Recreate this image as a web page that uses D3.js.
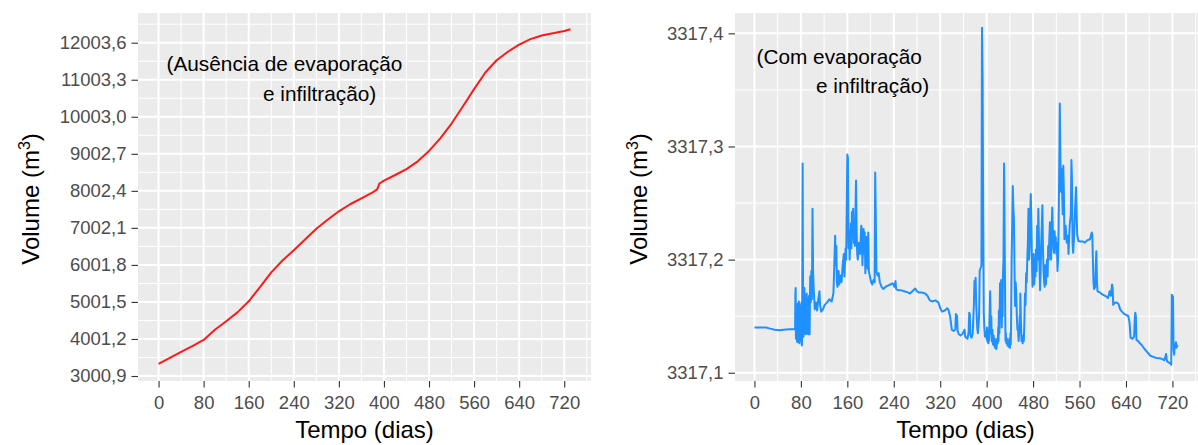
<!DOCTYPE html>
<meta charset='utf-8'>
<style>
	body { margin: 0; background: #fff; }
	svg { display: block; font-family: 'Liberation Sans', Arial, sans-serif; }
</style>
<body>
	<div id='container'></div>
<script src='https://d3js.org/d3.v7.min.js'></script>
<script>
	// eixo x comum (dias)
	const ticksDias = [0, 80, 160, 240, 320, 400, 480, 560, 640, 720];

	// painel esquerdo: sem evaporação e infiltração
	const ticksSem = [3000.9, 4001.2, 5001.5, 6001.8, 7002.1, 8002.4, 9002.7, 10003.0, 11003.3, 12003.6];
	const diasSem = [0, 20, 40, 60, 80, 100, 120, 140, 160, 180, 200, 220, 240, 260, 280, 300, 320, 340, 360, 380,
		388, 392, 400, 420, 440, 460, 480, 500, 520, 540, 560, 580, 600, 620, 640, 660, 680, 700, 720, 731];
	const volumeSem = [3330, 3490, 3650, 3810, 3975, 4250, 4480, 4720, 5020, 5400, 5800, 6120, 6400, 6690, 6980, 7220, 7450, 7640, 7800, 7960,
		8040, 8200, 8280, 8430, 8590, 8800, 9080, 9420, 9820, 10280, 10750, 11200, 11530, 11760, 11950, 12100, 12200, 12260, 12320, 12365];

	// painel direito: com evaporação e infiltração
	const ticksCom = [3317.1, 3317.2, 3317.3, 3317.4];
	const diasCom = [
		0, 10, 20, 27, 35, 44, 50, 60, 70, 70.5,
		71, 71.5, 72, 72.5, 73, 73.5, 74, 74.5, 75, 75.5,
		76, 76.5, 77, 77.5, 78, 78.5, 79, 79.5, 80, 80.5,
		81, 81.5, 82, 82.5, 83, 83.5, 84, 84.5, 85, 85.5,
		86, 86.5, 87, 87.5, 88, 88.5, 89, 89.5, 90, 90.5,
		91, 91.5, 92, 92.5, 93, 93.5, 94, 94.5, 95, 95.5,
		96, 97, 98, 99, 100, 101, 102, 103, 104, 106,
		108, 110, 112, 113, 115, 118, 121, 125, 129, 133,
		136, 137, 139, 140, 141, 142, 143, 145, 146, 148,
		150, 152, 154, 155, 157, 158, 160, 161, 162, 163,
		164, 166, 167, 168, 169, 170, 171, 172, 173, 175,
		176, 177, 178, 180, 182, 184, 185, 186, 188, 189,
		190, 191, 193, 195, 196, 197, 199, 201, 203, 205,
		207, 208, 209, 210, 212, 214, 216, 219, 222, 226,
		230, 234, 238, 241, 243, 244, 247, 252, 258, 264,
		268, 272, 277, 280, 283, 288, 294, 298, 302, 306,
		312, 317, 320, 323, 328, 332, 334, 337, 340, 343,
		346, 347, 349, 350, 352, 355, 358, 360, 362, 363,
		365, 367, 369, 370, 371, 372, 374, 376, 378, 379,
		380, 381, 382, 384, 385, 387, 388, 390, 391, 392,
		393, 394, 395, 396, 397, 399, 400, 400.5, 401, 401.5,
		402, 403, 403.5, 404, 405, 406, 406.5, 407, 408, 408.5,
		409, 410, 410.5, 411, 412, 412.5, 413, 414, 414.5, 415,
		416, 416.5, 417, 418, 419, 420, 420.5, 421, 422, 423,
		424, 425, 425.5, 426, 427, 427.5, 428, 429, 430, 430.5,
		431, 432, 432.5, 433, 434, 435, 436, 437, 438, 439,
		440, 441, 441.5, 442, 443, 444, 445, 446, 447, 448,
		449, 450, 451, 452, 453, 454, 455, 456, 457, 457.5,
		458, 459, 460, 461, 462, 463, 464, 465, 466, 467,
		468, 469, 470, 471, 472, 472.5, 473, 474, 475, 476,
		477, 478, 479, 480, 481, 482, 483, 484, 485, 486,
		487, 488, 489, 490, 491, 492, 493, 494, 495, 496,
		497, 498, 499, 500, 501, 502, 503, 504, 505, 506,
		507, 508, 509, 510, 511, 512, 513, 514, 515, 516,
		517, 518, 519, 520, 521, 522, 523, 524, 525, 526,
		527, 528, 529, 531, 532, 533, 534, 536, 538, 540,
		541, 543, 545, 546, 547, 548, 549, 551, 552, 554,
		555, 556, 558, 562, 566, 569, 573, 578, 581, 582,
		583, 584, 585, 587, 588, 589, 590, 591, 595, 600,
		604, 609, 612, 614, 616, 617, 618, 621, 624, 627,
		630, 633, 637, 641, 644, 646, 648, 651, 654, 655,
		656, 657, 658, 661, 664, 667, 672, 677, 682, 687,
		692, 698, 703, 706, 708, 709, 710, 711, 714, 717,
		718, 719, 720, 721, 722, 723, 724, 725, 726, 727,
		728, 729];
	const volumeCom = [
		3317.140, 3317.140, 3317.140, 3317.139, 3317.138, 3317.1375, 3317.138, 3317.1385, 3317.1385, 3317.170,
		3317.175, 3317.130, 3317.132, 3317.160, 3317.155, 3317.128, 3317.127, 3317.161, 3317.158, 3317.133,
		3317.136, 3317.163, 3317.160, 3317.126, 3317.130, 3317.158, 3317.157, 3317.129, 3317.128, 3317.160,
		3317.162, 3317.124, 3317.125, 3317.200, 3317.285, 3317.200, 3317.150, 3317.132, 3317.135, 3317.165,
		3317.175, 3317.136, 3317.140, 3317.160, 3317.165, 3317.134, 3317.135, 3317.168, 3317.170, 3317.135,
		3317.138, 3317.162, 3317.160, 3317.134, 3317.136, 3317.165, 3317.168, 3317.134, 3317.134, 3317.160,
		3317.185, 3317.162, 3317.190, 3317.165, 3317.245, 3317.190, 3317.175, 3317.165, 3317.156, 3317.162,
		3317.155, 3317.165, 3317.172, 3317.160, 3317.154, 3317.156, 3317.160, 3317.162, 3317.165, 3317.163,
		3317.170, 3317.185, 3317.221, 3317.195, 3317.212, 3317.180, 3317.176, 3317.190, 3317.178, 3317.186,
		3317.180, 3317.195, 3317.205, 3317.185, 3317.210, 3317.200, 3317.293, 3317.290, 3317.210, 3317.225,
		3317.200, 3317.232, 3317.210, 3317.242, 3317.225, 3317.245, 3317.215, 3317.230, 3317.212, 3317.270,
		3317.225, 3317.205, 3317.200, 3317.215, 3317.205, 3317.230, 3317.226, 3317.195, 3317.227, 3317.205,
		3317.224, 3317.188, 3317.220, 3317.192, 3317.224, 3317.190, 3317.185, 3317.180, 3317.178, 3317.182,
		3317.180, 3317.277, 3317.240, 3317.190, 3317.186, 3317.188, 3317.180, 3317.176, 3317.174, 3317.176,
		3317.177, 3317.178, 3317.179, 3317.176, 3317.181, 3317.174, 3317.173, 3317.173, 3317.172, 3317.171,
		3317.170, 3317.172, 3317.1745, 3317.172, 3317.171, 3317.171, 3317.170, 3317.168, 3317.164, 3317.163,
		3317.164, 3317.162, 3317.157, 3317.154, 3317.155, 3317.157, 3317.156, 3317.150, 3317.138, 3317.137,
		3317.138, 3317.152, 3317.150, 3317.137, 3317.134, 3317.133, 3317.134, 3317.136, 3317.138, 3317.132,
		3317.131, 3317.130, 3317.136, 3317.153, 3317.152, 3317.133, 3317.131, 3317.135, 3317.160, 3317.181,
		3317.175, 3317.184, 3317.160, 3317.138, 3317.135, 3317.150, 3317.190, 3317.193, 3317.195, 3317.405,
		3317.360, 3317.240, 3317.153, 3317.140, 3317.132, 3317.136, 3317.130, 3317.140, 3317.128, 3317.135,
		3317.127, 3317.126, 3317.138, 3317.128, 3317.150, 3317.172, 3317.160, 3317.135, 3317.150, 3317.130,
		3317.128, 3317.138, 3317.126, 3317.125, 3317.133, 3317.124, 3317.126, 3317.130, 3317.122, 3317.123,
		3317.128, 3317.121, 3317.122, 3317.130, 3317.126, 3317.140, 3317.128, 3317.155, 3317.135, 3317.179,
		3317.150, 3317.182, 3317.160, 3317.140, 3317.170, 3317.150, 3317.185, 3317.200, 3317.285, 3317.260,
		3317.220, 3317.150, 3317.128, 3317.135, 3317.126, 3317.130, 3317.124, 3317.127, 3317.123, 3317.130,
		3317.122, 3317.135, 3317.125, 3317.140, 3317.200, 3317.230, 3317.265, 3317.245, 3317.236, 3317.190,
		3317.159, 3317.180, 3317.170, 3317.150, 3317.138, 3317.140, 3317.128, 3317.135, 3317.150, 3317.138,
		3317.170, 3317.145, 3317.128, 3317.133, 3317.126, 3317.132, 3317.128, 3317.145, 3317.170, 3317.160,
		3317.188, 3317.180, 3317.200, 3317.215, 3317.245, 3317.210, 3317.200, 3317.210, 3317.240, 3317.258,
		3317.235, 3317.200, 3317.176, 3317.183, 3317.205, 3317.178, 3317.200, 3317.185, 3317.209, 3317.190,
		3317.230, 3317.200, 3317.245, 3317.220, 3317.195, 3317.173, 3317.190, 3317.215, 3317.230, 3317.248,
		3317.210, 3317.190, 3317.180, 3317.176, 3317.195, 3317.178, 3317.190, 3317.200, 3317.185, 3317.212,
		3317.200, 3317.220, 3317.233, 3317.215, 3317.200, 3317.230, 3317.246, 3317.225, 3317.210, 3317.206,
		3317.225, 3317.210, 3317.220, 3317.205, 3317.215, 3317.190, 3317.200, 3317.230, 3317.280, 3317.338,
		3317.290, 3317.260, 3317.280, 3317.240, 3317.283, 3317.260, 3317.218, 3317.230, 3317.215, 3317.221,
		3317.205, 3317.230, 3317.240, 3317.288, 3317.270, 3317.215, 3317.206, 3317.225, 3317.240, 3317.264,
		3317.240, 3317.222, 3317.2165, 3317.216, 3317.216, 3317.215, 3317.217, 3317.218, 3317.224, 3317.222,
		3317.200, 3317.180, 3317.174, 3317.176, 3317.195, 3317.2075, 3317.180, 3317.172, 3317.171, 3317.169,
		3317.168, 3317.166, 3317.172, 3317.168, 3317.178, 3317.175, 3317.160, 3317.162, 3317.162, 3317.161,
		3317.156, 3317.154, 3317.152, 3317.151, 3317.150, 3317.145, 3317.131, 3317.130, 3317.132, 3317.145,
		3317.153, 3317.150, 3317.129, 3317.128, 3317.126, 3317.1245, 3317.121, 3317.118, 3317.115, 3317.114,
		3317.113, 3317.1128, 3317.112, 3317.111, 3317.114, 3317.1166, 3317.112, 3317.110, 3317.109, 3317.108,
		3317.107, 3317.169, 3317.168, 3317.167, 3317.120, 3317.116, 3317.125, 3317.123, 3317.127, 3317.122,
		3317.124, 3317.123];

	const width = 1198, height = 445,
		panelTop = 13, panelBottom = 381,
		tickFont = 18.5, titleFont = 24, noteFont = 20.8;

	const fmt = d3.formatLocale( { decimal: ',', thousands: '.', grouping: [3], currency: ['R$', ''] } ).format( '.1f' );

	const svg = d3.select( '#container' )
		.append( 'svg' )
		.attr( 'width', width )
		.attr( 'height', height );

	svg.append( 'rect' ).attr( 'width', width ).attr( 'height', height ).attr( 'fill', '#fff' );

	const minors = ( ticks, domain ) => {
		const step = ticks[1] - ticks[0], out = [];
		for ( let i = -1; i < ticks.length; i++ ) {
			const m = ticks[0] + ( i + 0.5 ) * step;
			if ( m > domain[0] && m < domain[1] ) out.push( m );
		}
		return out;
	};

	const drawPanel = ( p ) => {
		const x = d3.scaleLinear().domain( p.xDomain ).range( [p.left, p.right] );
		const y = d3.scaleLinear().domain( p.yDomain ).range( [panelBottom, panelTop] );
		const g = svg.append( 'g' );

		g.append( 'clipPath' ).attr( 'id', p.id )
			.append( 'rect' )
				.attr( 'x', p.left ).attr( 'y', panelTop )
				.attr( 'width', p.right - p.left ).attr( 'height', panelBottom - panelTop );

		g.append( 'rect' )
			.attr( 'x', p.left ).attr( 'y', panelTop )
			.attr( 'width', p.right - p.left ).attr( 'height', panelBottom - panelTop )
			.attr( 'fill', '#EBEBEB' );

		const grid = g.append( 'g' ).attr( 'stroke', '#fff' );
		grid.selectAll( '.mx' ).data( minors( ticksDias, p.xDomain ) ).join( 'line' )
			.attr( 'x1', d => x( d ) ).attr( 'x2', d => x( d ) )
			.attr( 'y1', panelTop ).attr( 'y2', panelBottom ).attr( 'stroke-width', 1 );
		grid.selectAll( '.my' ).data( minors( p.yTicks, p.yDomain ) ).join( 'line' )
			.attr( 'y1', d => y( d ) ).attr( 'y2', d => y( d ) )
			.attr( 'x1', p.left ).attr( 'x2', p.right ).attr( 'stroke-width', 1 );
		grid.selectAll( '.Mx' ).data( ticksDias ).join( 'line' )
			.attr( 'x1', d => x( d ) ).attr( 'x2', d => x( d ) )
			.attr( 'y1', panelTop ).attr( 'y2', panelBottom ).attr( 'stroke-width', 2 );
		grid.selectAll( '.My' ).data( p.yTicks ).join( 'line' )
			.attr( 'y1', d => y( d ) ).attr( 'y2', d => y( d ) )
			.attr( 'x1', p.left ).attr( 'x2', p.right ).attr( 'stroke-width', 2 );

		g.append( 'path' )
			.datum( d3.zip( p.dias, p.volume ) )
			.attr( 'clip-path', `url(#${p.id})` )
			.attr( 'fill', 'none' )
			.attr( 'stroke', p.color )
			.attr( 'stroke-width', 2 )
			.attr( 'stroke-linejoin', 'round' )
			.attr( 'd', d3.line().x( d => x( d[0] ) ).y( d => y( d[1] ) ) );

		const xAxisEl = g.append( 'g' )
			.attr( 'transform', `translate( 0, ${panelBottom} )` )
			.call( d3.axisBottom( x ).tickValues( ticksDias ).tickSize( 6.5 ).tickPadding( 8 ) );
		const yAxisEl = g.append( 'g' )
			.attr( 'transform', `translate( ${p.left}, 0 )` )
			.call( d3.axisLeft( y ).tickValues( p.yTicks ).tickFormat( fmt ).tickSize( 6.5 ).tickPadding( 5 ) );

		[xAxisEl, yAxisEl].forEach( a => {
			a.select( '.domain' ).remove();
			a.selectAll( '.tick line' ).attr( 'stroke', '#333333' ).attr( 'stroke-width', 1.1 );
			a.selectAll( '.tick text' )
				.attr( 'fill', '#4D4D4D' )
				.style( 'font-size', tickFont + 'px' )
				.style( 'font-family', "'Liberation Sans', Arial, sans-serif" );
		} );

		g.append( 'text' )
			.attr( 'x', ( p.left + Math.min( p.right, width ) ) / 2 - ( p.right > width ? 1 : 0 ) )
			.attr( 'y', 438 )
			.attr( 'text-anchor', 'middle' )
			.style( 'font-size', titleFont + 'px' )
			.text( 'Tempo (dias)' );

		const yt = g.append( 'text' )
			.attr( 'transform', `translate( ${p.titleX}, 199 ) rotate( -90 )` )
			.attr( 'text-anchor', 'middle' )
			.style( 'font-size', titleFont + 'px' );
		yt.append( 'tspan' ).text( 'Volume (m' );
		yt.append( 'tspan' ).attr( 'dy', -9 ).style( 'font-size', '16px' ).text( '3' );
		yt.append( 'tspan' ).attr( 'dy', 9 ).text( ')' );

		p.note.forEach( n => {
			g.append( 'text' )
				.attr( 'x', n[0] ).attr( 'y', n[1] )
				.style( 'font-size', noteFont + 'px' )
				.attr( 'fill', '#000' )
				.text( n[2] );
		} );
	};

	drawPanel( {
		id: 'clip-sem', left: 138, right: 591,
		xDomain: [-36.5, 767.5], yDomain: [2866, 12806], yTicks: ticksSem,
		dias: diasSem, volume: volumeSem, color: '#FF1A1A', titleX: 39,
		note: [[166.5, 70.5, '(Ausência de evaporação'], [263, 100.5, 'e infiltração)']],
	} );

	drawPanel( {
		id: 'clip-com', left: 735, right: 1200,
		xDomain: [-33.5, 767.5], yDomain: [3317.0927, 3317.418], yTicks: ticksCom,
		dias: diasCom, volume: volumeCom, color: '#1E90FF', titleX: 647,
		note: [[756.5, 64, '(Com evaporação'], [816, 92.5, 'e infiltração)']],
	} );
</script>
</body>
